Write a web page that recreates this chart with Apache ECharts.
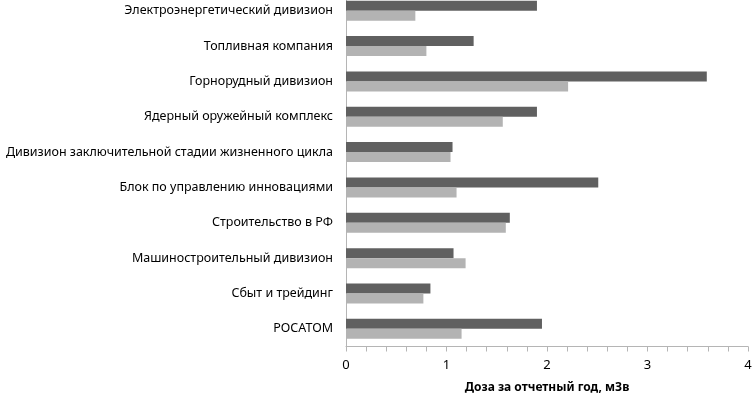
<!DOCTYPE html>
<html>
<head>
<meta charset="utf-8">
<script src="https://cdn.jsdelivr.net/npm/echarts@6/dist/echarts.min.js"></script>
<style>html,body{margin:0;padding:0;background:#fff}#c{width:752px;height:394px}</style>
</head>
<body>
<div id="c"></div>
<script>
const categories = [
  "Электроэнергетический дивизион",
  "Топливная компания",
  "Горнорудный дивизион",
  "Ядерный оружейный комплекс",
  "Дивизион заключительной стадии жизненного цикла",
  "Блок по управлению инновациями",
  "Строительство в РФ",
  "Машиностроительный дивизион",
  "Сбыт и трейдинг",
  "РОСАТОМ"
];
const darkValues = [1.90, 1.27, 3.59, 1.90, 1.06, 2.51, 1.63, 1.07, 0.84, 1.95];
const lightValues = [0.69, 0.80, 2.21, 1.56, 1.04, 1.10, 1.59, 1.19, 0.77, 1.15];
const xTicks = [0, 1, 2, 3, 4];
const axisTitle = "Доза за отчетный год, мЗв";

const chart = echarts.init(document.getElementById('c'), null, {renderer: 'canvas'});
const font = "'Noto Sans', sans-serif";
chart.setOption({
  animation: false,
  grid: {left: 346, right: 4, top: -7, bottom: 47.5, containLabel: false, outerBoundsMode: 'none'},
  xAxis: {
    type: 'value',
    min: xTicks[0], max: xTicks[xTicks.length - 1], interval: 1,
    splitLine: {show: false},
    axisLine: {show: true, lineStyle: {color: '#b5b5b5', width: 1}},
    axisTick: {show: true, length: 5, lineStyle: {color: '#b5b5b5'}},
    minorTick: {show: true, splitNumber: 5, length: 5, lineStyle: {color: '#b5b5b5'}},
    axisLabel: {color: '#000', fontFamily: font, fontSize: 13, margin: 12},
    name: axisTitle,
    nameLocation: 'middle',
    nameGap: 35,
    nameTextStyle: {color: '#000', fontFamily: font, fontSize: 12, fontWeight: 'bold'}
  },
  yAxis: {
    type: 'category',
    data: categories,
    inverse: true,
    axisLine: {show: true, lineStyle: {color: '#b5b5b5', width: 1}},
    axisTick: {show: false},
    axisLabel: {color: '#000', fontFamily: font, fontSize: 12.5, margin: 13}
  },
  series: [
    {type: 'bar', data: darkValues, barWidth: 10, barGap: '0%', itemStyle: {color: '#606060'}},
    {type: 'bar', data: lightValues, barWidth: 10, barGap: '0%', itemStyle: {color: '#b3b3b3'}}
  ]
});
</script>
</body>
</html>
